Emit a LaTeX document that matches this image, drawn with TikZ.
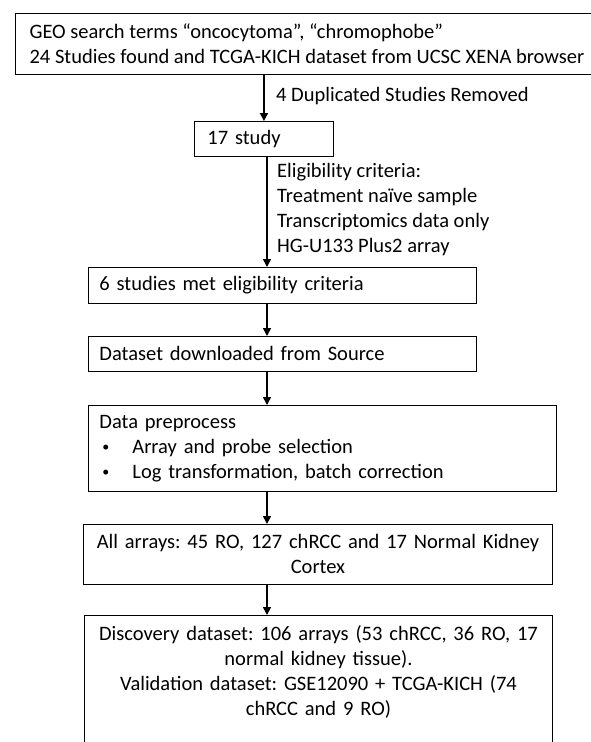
\documentclass[tikz,border=0pt]{standalone}
\usepackage{fontspec}
\setmainfont{Carlito}
\usepackage{tikz}
\usetikzlibrary{arrows.meta}
\newcommand{\stepdot}{\hspace*{3pt}\makebox[30pt][l]{\raisebox{1.6pt}{\fontsize{14pt}{14pt}\selectfont\textbullet}}}
\tikzset{
  flowarrow/.style={-{Triangle[length=8pt,width=8pt]}, line width=1.6pt},
  stagebox/.style={draw, line width=0.9pt, fill=white, align=left, inner xsep=11pt, inner ysep=0pt, anchor=north west},
  countbox/.style={draw, line width=0.9pt, fill=white, align=center, inner xsep=10pt, inner ysep=0pt, anchor=north west},
  sidenote/.style={inner sep=0pt, align=left, anchor=west}
}

\begin{document}
\begin{tikzpicture}[x=1pt, y=-1pt, every node/.style={font=\fontsize{20.5pt}{25pt}\selectfont\frenchspacing}]
  \useasboundingbox (0,0) rectangle (590,742);
  \node[stagebox, inner xsep=12pt, minimum width=583pt, minimum height=61pt] (search) at (15,13) {GEO search terms “oncocytoma”, “chromophobe”\\24 Studies found and TCGA-KICH dataset from UCSC XENA browser};
  \node[stagebox, inner xsep=13pt, text width=113pt, minimum height=35pt] (study) at (194,121) {17 study};
  \node[stagebox, text width=366pt, minimum height=36pt] (eligible) at (88,267) {6 studies met eligibility criteria};
  \node[stagebox, text width=366pt, minimum height=35pt] (download) at (88,336) {Dataset downloaded from Source};
  \node[stagebox, text width=446pt, minimum height=86pt] (preprocess) at (88,405) {Data preprocess\\\stepdot Array and probe selection\\\stepdot Log transformation, batch correction};
  \node[countbox, text width=449pt, minimum height=60pt] (allarrays) at (83,524) {All arrays: 45 RO, 127 chRCC and 17 Normal Kidney\\Cortex};
  \node[countbox, draw=none, fill=none, text width=448pt, inner ysep=10.5pt] (datasets) at (84,615) {Discovery dataset: 106 arrays (53 chRCC, 36 RO, 17\\normal kidney tissue).\\Validation dataset: GSE12090 + TCGA-KICH (74\\chRCC and 9 RO)};
  \draw[line width=0.9pt] (datasets.north west) rectangle (datasets.east |- 0,760);
  \node[sidenote] (dup) at (276,96) {4 Duplicated Studies Removed};
  \node[sidenote] (criteria) at (277,209.5) {Eligibility criteria:\\Treatment naïve sample\\Transcriptomics data only\\HG-U133 Plus2 array};
  \coordinate (spine) at (267,0);
  \draw[flowarrow] (study.north |- search.south) -- (study.north);
  \draw[flowarrow] (spine |- study.south) -- (spine |- eligible.north);
  \draw[flowarrow] (spine |- eligible.south) -- (spine |- download.north);
  \draw[flowarrow] (spine |- download.south) -- (spine |- preprocess.north);
  \draw[flowarrow] (spine |- preprocess.south) -- (spine |- allarrays.north);
  \draw[flowarrow] (spine |- allarrays.south) -- (spine |- datasets.north);
\end{tikzpicture}
\end{document}
